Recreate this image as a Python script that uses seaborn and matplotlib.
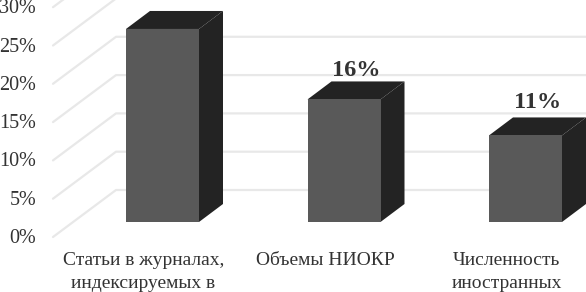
import matplotlib
matplotlib.use("Agg")
import matplotlib.pyplot as plt
import matplotlib.transforms as mtrans
import seaborn as sns
import pandas as pd

categories = ["Статьи в журналах,\nиндексируемых в", "Объемы НИОКР", "Численность\nиностранных"]
values = [25.2, 16.0, 11.3]
shown_labels = [False, True, True]
ticks = [0, 5, 10, 15, 20, 25, 30]

W, H = 586, 292
TOP_EXTRA = 20     # axes run past the top edge so the 30% tick still exists
X0_PX, STEP_PX = 162.5, 181.5
Y0_PX, UNIT_PX = 222.0, 7.66
FRONT = "#595959"
DARK = "#232323"
GRID = "#e8e8e8"
TEXT = "#333333"
SERIF = "Liberation Serif"


def dx(px):
    return px / STEP_PX


def dy(px):
    return px / UNIT_PX


def shift(fig, x_px, y_px):
    return mtrans.ScaledTranslation(x_px / fig.dpi, y_px / fig.dpi, fig.dpi_scale_trans)


sns.set_theme(style="white")
fig = plt.figure(figsize=(W / 100, H / 100), dpi=100)
ax = fig.add_axes([0, 0, 1, (H + TOP_EXTRA) / H])

df = pd.DataFrame({"category": categories, "value": values})
sns.barplot(data=df, x="category", y="value", width=73 / STEP_PX, color=FRONT,
            saturation=1, linewidth=0, ax=ax, zorder=3)

left = -X0_PX / STEP_PX
right = (W - X0_PX) / STEP_PX
ax.set_xlim(left, right)
ax.set_ylim(-dy(H - Y0_PX), dy(Y0_PX + TOP_EXTRA))
sns.despine(ax=ax, left=True, bottom=True)
ax.set_xlabel("")
ax.set_ylabel("")

# back wall and side wall gridlines
wall_x0 = left + dx(53)
wall_x1 = left + dx(116)
for t in ticks:
    y_front = t - dy(15)
    y_back = t + dy(32)
    ax.plot([wall_x0, wall_x1, right], [y_front, y_back, y_back], color=GRID, lw=1.6, zorder=1)

# fake 3d faces
depth_x, depth_y = dx(24), dy(18)
label_gaps = [4, 0, 4]
for patch, value, show, gap in zip(ax.patches, values, shown_labels, label_gaps):
    x0 = patch.get_x()
    x1 = x0 + patch.get_width()
    ax.fill([x1, x1 + depth_x, x1 + depth_x, x1], [0, depth_y, value + depth_y, value],
            color=DARK, lw=0, zorder=2)
    ax.fill([x0, x0 + depth_x, x1 + depth_x, x1], [value, value + depth_y, value + depth_y, value],
            color=DARK, lw=0, zorder=2)
    if show:
        ax.text((x0 + x1) / 2 + depth_x / 2, value + depth_y + dy(gap), f"{value:.0f}%",
                ha="center", va="bottom", family=SERIF, weight="bold", fontsize=17.5, color=TEXT)

ax.set_yticks(ticks)
ax.set_yticklabels([f"{t}%" for t in ticks], family=SERIF, fontsize=14.5, color=TEXT)
ax.tick_params(axis="y", length=0, pad=-26)
for label in ax.get_yticklabels():
    label.set_transform(label.get_transform() + shift(fig, 0, -14))

ax.tick_params(axis="x", length=0, pad=-28.5)
ax.set_xticks(range(len(categories)))
ax.set_xticklabels(categories, family=SERIF, fontsize=14, color=TEXT, linespacing=1.4)
for label in ax.get_xticklabels():
    label.set_transform(label.get_transform() + shift(fig, -19, 0))

fig.savefig("out.png", dpi=100)
